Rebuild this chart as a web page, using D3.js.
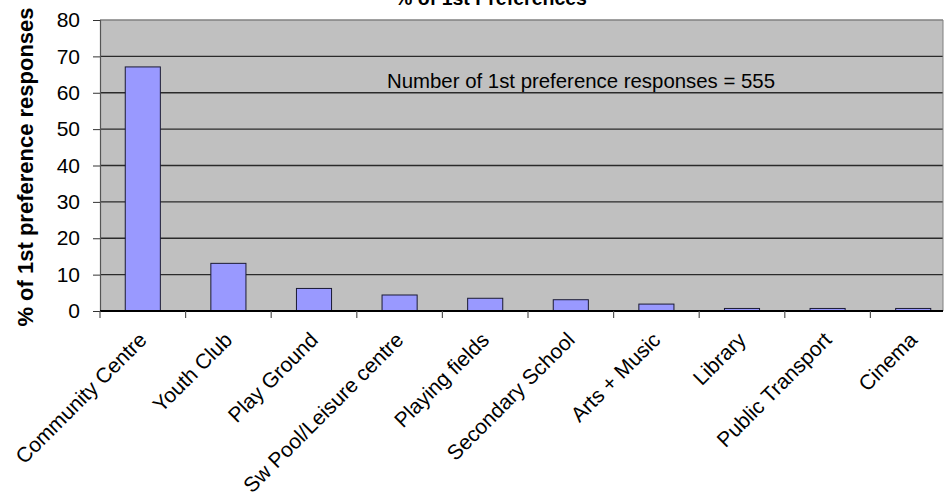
<!DOCTYPE html>
<html>
<head>
<meta charset="utf-8">
<script src="https://cdn.jsdelivr.net/npm/d3@7"></script>
<style>
  html, body { margin: 0; padding: 0; background: #fff; }
  svg { display: block; font-family: "Liberation Sans", Arial, sans-serif; }
</style>
</head>
<body>
<svg id="chart" width="945" height="501"></svg>
<script>
const categories = ["Community Centre", "Youth Club", "Play Ground", "Sw Pool/Leisure centre",
  "Playing fields", "Secondary School", "Arts + Music", "Library", "Public Transport", "Cinema"];
const values = [67.1, 13.1, 6.2, 4.4, 3.5, 3.1, 1.9, 0.7, 0.7, 0.7];
const yTicks = [0, 10, 20, 30, 40, 50, 60, 70, 80];
const titleText = "% of 1st Preferences";
const yTitle = "% of 1st preference responses";
const note = "Number of 1st preference responses = 555";

const svg = d3.select("#chart");
const mLeft = 100, plotRight = 943, bandRight = 956, mTop = 20, mBottom = 311;

const x = d3.scaleBand().domain(categories).range([mLeft, bandRight]).paddingInner(0.59).paddingOuter(0.295);
const xb = d3.scaleBand().domain(categories).range([mLeft, bandRight]);
const y = d3.scaleLinear().domain([0, 80]).range([mBottom, mTop]);

// plot background
svg.append("rect").attr("x", mLeft).attr("y", mTop).attr("width", plotRight - mLeft).attr("height", mBottom - mTop)
  .attr("fill", "#c0c0c0");

// gridlines
svg.append("g").selectAll("line").data(yTicks.filter(d => d > 0 && d < 80)).join("line")
  .attr("x1", mLeft).attr("x2", plotRight).attr("y1", d => y(d)).attr("y2", d => y(d))
  .attr("stroke", "#2a2a2a").attr("stroke-width", 1.3);

// top & right border
svg.append("line").attr("x1", mLeft).attr("x2", plotRight).attr("y1", mTop).attr("y2", mTop)
  .attr("stroke", "#808080").attr("stroke-width", 1.5);
svg.append("line").attr("x1", plotRight).attr("x2", plotRight).attr("y1", mTop).attr("y2", mBottom)
  .attr("stroke", "#808080").attr("stroke-width", 1);

// bars
svg.append("g").selectAll("rect").data(values).join("rect")
  .attr("x", (d, i) => x(categories[i]))
  .attr("width", x.bandwidth())
  .attr("y", d => y(d))
  .attr("height", d => y(0) - y(d))
  .attr("fill", "#9999ff").attr("stroke", "#1a1a33").attr("stroke-width", 1);

// y axis
const yAxis = d3.axisLeft(y).tickValues(yTicks).tickSize(7).tickPadding(13);
const gy = svg.append("g").attr("transform", `translate(${mLeft},0)`).call(yAxis);
gy.select(".domain").attr("stroke", "#555").attr("stroke-width", 1.2);
gy.selectAll(".tick line").attr("stroke", "#333");
gy.selectAll(".tick text").attr("font-size", 21).attr("fill", "#000")
  .attr("font-family", "'Liberation Sans', Arial, sans-serif");

// x axis
const xAxis = d3.axisBottom(xb).tickSize(0).tickFormat("");
const gx = svg.append("g").attr("transform", `translate(0,${mBottom})`).call(xAxis);
gx.select(".domain").remove();
svg.append("line").attr("x1", mLeft).attr("x2", plotRight).attr("y1", mBottom).attr("y2", mBottom)
  .attr("stroke", "#000").attr("stroke-width", 2.2);
// boundary ticks
svg.append("g").selectAll("line").data(categories).join("line")
  .attr("x1", d => xb(d)).attr("x2", d => xb(d))
  .attr("y1", mBottom).attr("y2", mBottom + 7)
  .attr("stroke", "#555").attr("stroke-width", 1.2);

// x labels
svg.append("g").selectAll("text").data(categories).join("text")
  .attr("transform", d => `translate(${xb(d) + xb.bandwidth() / 2},${mBottom + 25}) rotate(-45)`)
  .attr("text-anchor", "end").attr("dy", "0.35em")
  .attr("font-size", 21).attr("fill", "#000")
  .text(d => d);

// y title
svg.append("text")
  .attr("transform", `translate(33,167) rotate(-90)`)
  .attr("text-anchor", "middle").attr("font-size", 22).attr("font-weight", "bold")
  .text(yTitle);

// title (cut off at top, as in the reference)
svg.append("text").attr("x", 491).attr("y", 5).attr("text-anchor", "middle")
  .attr("font-size", 19.5).attr("font-weight", "bold").text(titleText);

// annotation
svg.append("text").attr("x", 387).attr("y", 88).attr("font-size", 21)
  .attr("textLength", 388).attr("lengthAdjust", "spacingAndGlyphs").text(note);
</script>
</body>
</html>
